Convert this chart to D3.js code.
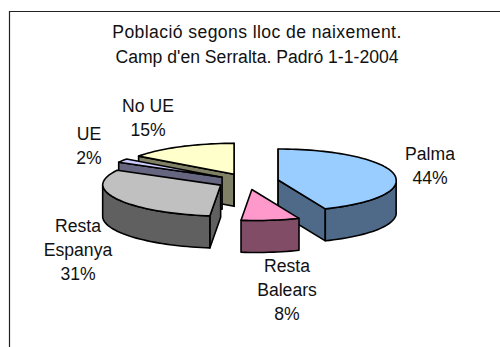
<!DOCTYPE html>
<html>
<head>
<meta charset="utf-8">
<script src="https://cdn.jsdelivr.net/npm/d3@7"></script>
<style>
  html, body { margin: 0; padding: 0; background: #fff; overflow: hidden; }
  text { font-family: "Liberation Sans", Arial, sans-serif; font-size: 17.6px; fill: #111; text-anchor: middle; }
</style>
</head>
<body>
<div id="chart"></div>
<script>
// Chart data
const categories = ["Palma", "Resta Balears", "Resta Espanya", "UE", "No UE"];
const values = [44, 8, 31, 2, 15];
const topColors = ["#99ccff", "#ff99cc", "#c0c0c0", "#ccccff", "#ffffcc"];
const sideColors = ["#4f6a88", "#804c66", "#606060", "#666680", "#808066"];
const titleLines = ["Població segons lloc de naixement.", "Camp d'en Serralta. Padró 1-1-2004"];

const width = 500, height = 347;

// Pie geometry, tilted by squashing the circle
const cx = 248, cy = 181.5, rx = 118, ry = 31, depth = 32, explode = 0.26;
const frontLean = 4; // the original's perspective pushes the near rim to the right

const svg = d3.select("#chart").append("svg")
    .attr("width", width)
    .attr("height", height);

// Chart frame, runs off the right and bottom of the picture
svg.append("path")
    .attr("d", `M9.5,${height}V11.5H${width}`)
    .attr("fill", "none")
    .attr("stroke", "#222")
    .attr("stroke-width", 1.2);

svg.selectAll("text.title")
    .data(titleLines)
    .enter().append("text")
    .attr("class", "title")
    .attr("x", 257)
    .attr("y", (d, i) => 37.5 + i * 25)
    .attr("letter-spacing", (d, i) => i === 0 ? 0.4 : 0)
    .text(d => d);

const topColor = d3.scaleOrdinal().domain(categories).range(topColors);
const sideColor = d3.scaleOrdinal().domain(categories).range(sideColors);

const arcs = d3.pie().sort(null).value(d => d)(values)
    .map((a, i) => ({ ...a, name: categories[i] }));

const line = d3.line();

// Point on the rim of a slice at the given angle
function rim(a, angle, dy = 0) {
    const mid = (a.startAngle + a.endAngle) / 2;
    const ox = cx + explode * rx * Math.sin(mid);
    const oy = cy - explode * ry * Math.cos(mid);
    const lean = frontLean * Math.max(0, -Math.cos(angle));
    return [ox + rx * Math.sin(angle) + lean, oy - ry * Math.cos(angle) + dy];
}

function centre(a, dy = 0) {
    const mid = (a.startAngle + a.endAngle) / 2;
    return [cx + explode * rx * Math.sin(mid), cy - explode * ry * Math.cos(mid) + dy];
}

function arcPoints(a, from, to, dy = 0) {
    const n = Math.max(2, Math.ceil((to - from) / 0.04));
    return d3.range(n + 1).map(k => rim(a, from + (to - from) * k / n, dy));
}

const g = svg.append("g")
    .attr("stroke", "#000")
    .attr("stroke-width", 1.6)
    .attr("stroke-linejoin", "round");

// Back to front so nearer slices cover the ones behind
const order = ["No UE", "UE", "Resta Espanya", "Palma", "Resta Balears"];

order.forEach(name => {
    const a = arcs.find(d => d.name === name);
    const s = a.startAngle, e = a.endAngle;
    const slice = g.append("g").attr("class", "slice");

    // Cut faces, only where they turn towards the viewer
    const walls = [];
    if (Math.cos(s - Math.PI / 2) <= 0.01) walls.push(s);
    if (Math.cos(e + Math.PI / 2) <= 0.01) walls.push(e);
    walls.forEach(w => {
        slice.append("path")
            .attr("d", line([centre(a), rim(a, w), rim(a, w, depth), centre(a, depth)]) + "Z")
            .attr("fill", sideColor(name));
    });

    // Outer wall on the front half of the ellipse
    const from = Math.max(s, Math.PI / 2), to = Math.min(e, 3 * Math.PI / 2);
    if (to > from) {
        const pts = arcPoints(a, from, to).concat(arcPoints(a, from, to, depth).reverse());
        slice.append("path")
            .attr("d", line(pts) + "Z")
            .attr("fill", sideColor(name));
    }

    // Top face
    slice.append("path")
        .attr("d", line([centre(a), ...arcPoints(a, s, e)]) + "Z")
        .attr("fill", topColor(name));
});

// Data labels
const labelLines = [["Palma", "44%"], ["Resta", "Balears", "8%"], ["Resta", "Espanya", "31%"], ["UE", "2%"], ["No UE", "15%"]];
const labelPos = [[430, 160], [287, 272], [78, 232], [89, 140], [148, 112]];

labelLines.forEach((lines, i) => {
    svg.selectAll(null)
        .data(lines)
        .enter().append("text")
        .attr("x", labelPos[i][0])
        .attr("y", (d, k) => labelPos[i][1] + k * 24)
        .text(d => d);
});
</script>
</body>
</html>
